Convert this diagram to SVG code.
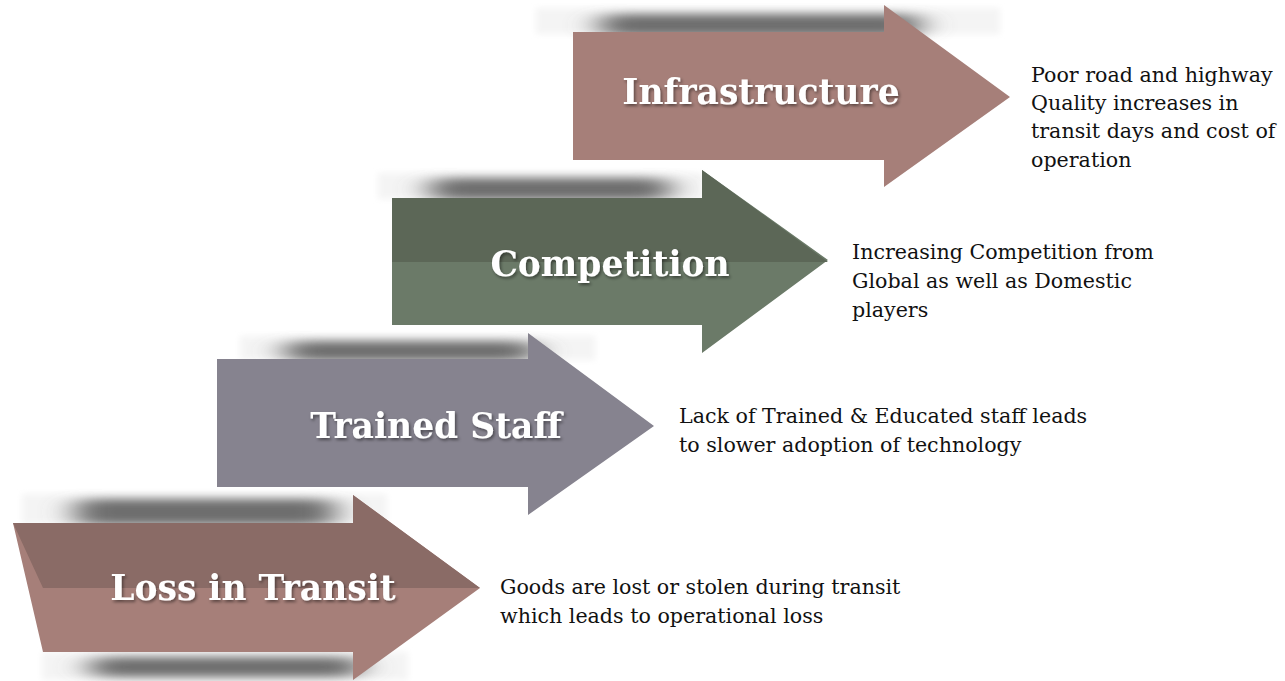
<svg xmlns="http://www.w3.org/2000/svg" width="1285" height="681" viewBox="0 0 1285 681">
<defs>
<filter id="blur" x="-30%" y="-150%" width="160%" height="400%"><feGaussianBlur stdDeviation="16 5"/></filter>
<filter id="soft" x="-10%" y="-50%" width="120%" height="200%"><feGaussianBlur stdDeviation="3"/></filter>
<filter id="ts" x="-10%" y="-30%" width="120%" height="160%"><feDropShadow dx="1.5" dy="2" stdDeviation="1.5" flood-color="#000" flood-opacity="0.45"/></filter>
<style>
.lbl{font-family:"DejaVu Serif","Liberation Serif",serif;font-weight:bold;font-size:34.5px;fill:#fff;text-anchor:middle}
.desc{font-family:"DejaVu Serif","Liberation Serif",serif;font-size:20.6px;fill:#111}
.shd{fill:#6e6e6e;filter:url(#blur)}
.glow{fill:#f4f4f4;filter:url(#soft)}
</style>
</defs>
<rect width="1285" height="681" fill="#fff"/>
<g id="shadows">
<rect class="glow" x="536" y="8" width="464" height="26"/>
<rect class="shd" x="600" y="14" width="320" height="22" rx="10"/>
<rect class="glow" x="378" y="173" width="325" height="26"/>
<rect class="shd" x="430" y="178" width="240" height="22" rx="10"/>
<rect class="glow" x="240" y="336" width="355" height="24"/>
<rect class="shd" x="285" y="341" width="250" height="20" rx="10"/>
<rect class="glow" x="22" y="494" width="365" height="30"/>
<rect class="shd" x="75" y="499" width="260" height="26" rx="10"/>
<rect class="glow" x="42" y="652" width="366" height="28"/>
<rect class="shd" x="90" y="657" width="270" height="20" rx="10"/>
</g>
<g id="infrastructure">
<polygon points="573,32 884,32 884,5 1010,97 884,187 884,160 573,160" fill="#a67f79"/>
<text class="lbl" x="761" y="104" filter="url(#ts)">Infrastructure</text>
<text class="desc" x="1031" y="82">Poor road and highway</text>
<text class="desc" x="1031" y="110">Quality increases in</text>
<text class="desc" x="1031" y="138">transit days and cost of</text>
<text class="desc" x="1031" y="167">operation</text>
</g>
<g id="competition">
<polygon points="392,198 702,198 702,170 828,260 702,353 702,325 392,325" fill="#6b7a68"/>
<polygon points="392,198 702,198 702,170 828,262 392,262" fill="#5c6757"/>
<text class="lbl" x="610" y="276" filter="url(#ts)">Competition</text>
<text class="desc" x="852" y="259">Increasing Competition from</text>
<text class="desc" x="852" y="288">Global as well as Domestic</text>
<text class="desc" x="852" y="317">players</text>
</g>
<g id="trained-staff">
<polygon points="217,359 528,359 528,333 654,426 528,515 528,487 217,487" fill="#86838f"/>
<text class="lbl" x="436" y="438" filter="url(#ts)">Trained Staff</text>
<text class="desc" x="679" y="423">Lack of Trained &amp; Educated staff leads</text>
<text class="desc" x="679" y="452">to slower adoption of technology</text>
</g>
<g id="loss-in-transit">
<polygon points="13,523 353,523 353,495 480,588 353,680 353,652 43,652" fill="#a67f79"/>
<polygon points="13,523 353,523 353,495 480,588 43,588" fill="#8a6b66"/>
<text class="lbl" x="253" y="600" filter="url(#ts)">Loss in Transit</text>
<text class="desc" x="500" y="594">Goods are lost or stolen during transit</text>
<text class="desc" x="500" y="623">which leads to operational loss</text>
</g>
<g id="connectors"></g>
</svg>
